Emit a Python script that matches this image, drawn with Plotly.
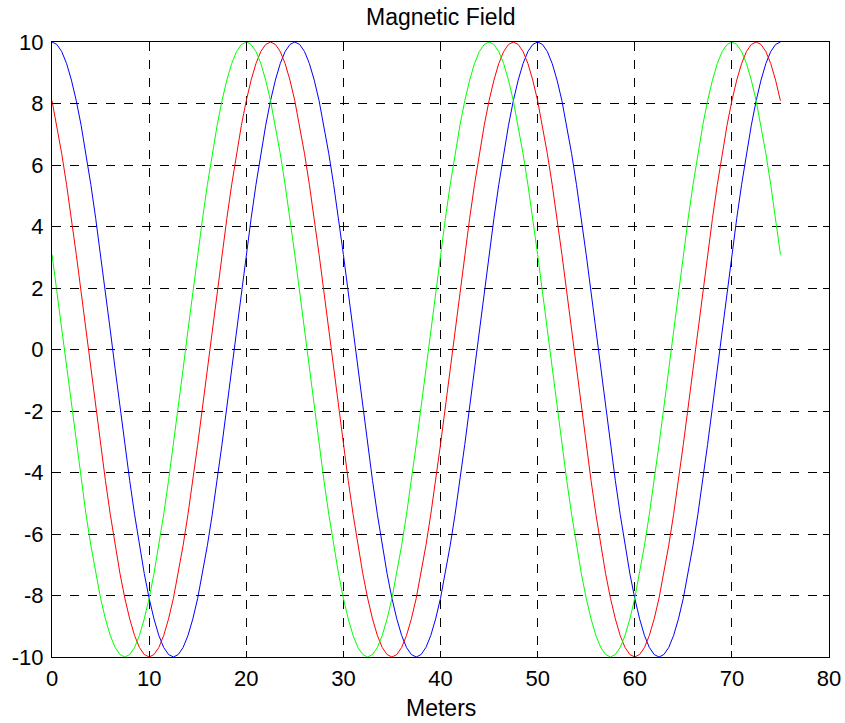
import plotly.graph_objects as go

meters = [0, 0.5, 1, 1.5, 2, 2.5, 3, 3.5, 4, 4.5, 5, 5.5, 6, 6.5, 7, 7.5, 8, 8.5, 9, 9.5,
          10, 10.5, 11, 11.5, 12, 12.5, 13, 13.5, 14, 14.5, 15, 15.5, 16, 16.5, 17, 17.5, 18, 18.5, 19, 19.5,
          20, 20.5, 21, 21.5, 22, 22.5, 23, 23.5, 24, 24.5, 25, 25.5, 26, 26.5, 27, 27.5, 28, 28.5, 29, 29.5,
          30, 30.5, 31, 31.5, 32, 32.5, 33, 33.5, 34, 34.5, 35, 35.5, 36, 36.5, 37, 37.5, 38, 38.5, 39, 39.5,
          40, 40.5, 41, 41.5, 42, 42.5, 43, 43.5, 44, 44.5, 45, 45.5, 46, 46.5, 47, 47.5, 48, 48.5, 49, 49.5,
          50, 50.5, 51, 51.5, 52, 52.5, 53, 53.5, 54, 54.5, 55, 55.5, 56, 56.5, 57, 57.5, 58, 58.5, 59, 59.5,
          60, 60.5, 61, 61.5, 62, 62.5, 63, 63.5, 64, 64.5, 65, 65.5, 66, 66.5, 67, 67.5, 68, 68.5, 69, 69.5,
          70, 70.5, 71, 71.5, 72, 72.5, 73, 73.5, 74, 74.5, 75]

blue_field = [
    10, 9.92, 9.69, 9.30, 8.76, 8.09, 7.29, 6.37, 5.36, 4.26, 3.09, 1.87, 0.63, -0.63, -1.87, -3.09, -4.26, -5.36, -6.37, -7.29, -8.09, -8.76, -9.30, -9.69, -9.92,
    -10, -9.92, -9.69, -9.30, -8.76, -8.09, -7.29, -6.37, -5.36, -4.26, -3.09, -1.87, -0.63, 0.63, 1.87, 3.09, 4.26, 5.36, 6.37, 7.29, 8.09, 8.76, 9.30, 9.69, 9.92,
    10, 9.92, 9.69, 9.30, 8.76, 8.09, 7.29, 6.37, 5.36, 4.26, 3.09, 1.87, 0.63, -0.63, -1.87, -3.09, -4.26, -5.36, -6.37, -7.29, -8.09, -8.76, -9.30, -9.69, -9.92,
    -10, -9.92, -9.69, -9.30, -8.76, -8.09, -7.29, -6.37, -5.36, -4.26, -3.09, -1.87, -0.63, 0.63, 1.87, 3.09, 4.26, 5.36, 6.37, 7.29, 8.09, 8.76, 9.30, 9.69, 9.92,
    10, 9.92, 9.69, 9.30, 8.76, 8.09, 7.29, 6.37, 5.36, 4.26, 3.09, 1.87, 0.63, -0.63, -1.87, -3.09, -4.26, -5.36, -6.37, -7.29, -8.09, -8.76, -9.30, -9.69, -9.92,
    -10, -9.92, -9.69, -9.30, -8.76, -8.09, -7.29, -6.37, -5.36, -4.26, -3.09, -1.87, -0.63, 0.63, 1.87, 3.09, 4.26, 5.36, 6.37, 7.29, 8.09, 8.76, 9.30, 9.69, 9.92,
    10]

red_field = [
    8.09, 7.29, 6.37, 5.36, 4.26, 3.09, 1.87, 0.63, -0.63, -1.87, -3.09, -4.26, -5.36, -6.37, -7.29, -8.09, -8.76, -9.30, -9.69, -9.92, -10, -9.92, -9.69, -9.30, -8.76,
    -8.09, -7.29, -6.37, -5.36, -4.26, -3.09, -1.87, -0.63, 0.63, 1.87, 3.09, 4.26, 5.36, 6.37, 7.29, 8.09, 8.76, 9.30, 9.69, 9.92, 10, 9.92, 9.69, 9.30, 8.76,
    8.09, 7.29, 6.37, 5.36, 4.26, 3.09, 1.87, 0.63, -0.63, -1.87, -3.09, -4.26, -5.36, -6.37, -7.29, -8.09, -8.76, -9.30, -9.69, -9.92, -10, -9.92, -9.69, -9.30, -8.76,
    -8.09, -7.29, -6.37, -5.36, -4.26, -3.09, -1.87, -0.63, 0.63, 1.87, 3.09, 4.26, 5.36, 6.37, 7.29, 8.09, 8.76, 9.30, 9.69, 9.92, 10, 9.92, 9.69, 9.30, 8.76,
    8.09, 7.29, 6.37, 5.36, 4.26, 3.09, 1.87, 0.63, -0.63, -1.87, -3.09, -4.26, -5.36, -6.37, -7.29, -8.09, -8.76, -9.30, -9.69, -9.92, -10, -9.92, -9.69, -9.30, -8.76,
    -8.09, -7.29, -6.37, -5.36, -4.26, -3.09, -1.87, -0.63, 0.63, 1.87, 3.09, 4.26, 5.36, 6.37, 7.29, 8.09, 8.76, 9.30, 9.69, 9.92, 10, 9.92, 9.69, 9.30, 8.76,
    8.09]

green_field = [
    3.09, 1.87, 0.63, -0.63, -1.87, -3.09, -4.26, -5.36, -6.37, -7.29, -8.09, -8.76, -9.30, -9.69, -9.92, -10, -9.92, -9.69, -9.30, -8.76, -8.09, -7.29, -6.37, -5.36, -4.26,
    -3.09, -1.87, -0.63, 0.63, 1.87, 3.09, 4.26, 5.36, 6.37, 7.29, 8.09, 8.76, 9.30, 9.69, 9.92, 10, 9.92, 9.69, 9.30, 8.76, 8.09, 7.29, 6.37, 5.36, 4.26,
    3.09, 1.87, 0.63, -0.63, -1.87, -3.09, -4.26, -5.36, -6.37, -7.29, -8.09, -8.76, -9.30, -9.69, -9.92, -10, -9.92, -9.69, -9.30, -8.76, -8.09, -7.29, -6.37, -5.36, -4.26,
    -3.09, -1.87, -0.63, 0.63, 1.87, 3.09, 4.26, 5.36, 6.37, 7.29, 8.09, 8.76, 9.30, 9.69, 9.92, 10, 9.92, 9.69, 9.30, 8.76, 8.09, 7.29, 6.37, 5.36, 4.26,
    3.09, 1.87, 0.63, -0.63, -1.87, -3.09, -4.26, -5.36, -6.37, -7.29, -8.09, -8.76, -9.30, -9.69, -9.92, -10, -9.92, -9.69, -9.30, -8.76, -8.09, -7.29, -6.37, -5.36, -4.26,
    -3.09, -1.87, -0.63, 0.63, 1.87, 3.09, 4.26, 5.36, 6.37, 7.29, 8.09, 8.76, 9.30, 9.69, 9.92, 10, 9.92, 9.69, 9.30, 8.76, 8.09, 7.29, 6.37, 5.36, 4.26,
    3.09]

x_ticks = [0, 10, 20, 30, 40, 50, 60, 70, 80]
x_tick_labels = ["0", "10", "20", "30", "40", "50", "60", "70", "80"]
y_ticks = [-10, -8, -6, -4, -2, 0, 2, 4, 6, 8, 10]
y_tick_labels = ["-10", "-8", "-6", "-4", "-2", "0", "2", "4", "6", "8", "10"]

FONT = "Liberation Sans, Arial, sans-serif"
FS = 22
FS_TITLE = 23

fig = go.Figure()
for vals, col in [(blue_field, "#0000ff"), (red_field, "#ff0000"), (green_field, "#00ff00")]:
    fig.add_trace(go.Scatter(x=meters, y=vals, mode="lines",
                             line=dict(color=col, width=1), showlegend=False))

axis_common = dict(showline=True, linecolor="black", linewidth=1, mirror="allticks",
                   ticks="inside", ticklen=6, tickcolor="black", tickwidth=1,
                   showgrid=True, gridcolor="black", gridwidth=1, griddash="dash",
                   zeroline=False, automargin=False,
                   tickfont=dict(family=FONT, size=FS, color="black"))

fig.update_xaxes(range=[0, 80], tickvals=x_ticks, ticktext=x_tick_labels,
                 ticklabelstandoff=2, **axis_common)
fig.update_yaxes(range=[-10, 10], tickvals=y_ticks, ticktext=y_tick_labels,
                 ticklabelstandoff=3, **axis_common)

fig.update_layout(
    width=845, height=723,
    margin=dict(l=52, r=16, t=42, b=66),
    plot_bgcolor="white", paper_bgcolor="white",
    font=dict(family=FONT, size=FS, color="black"),
    annotations=[
        dict(text="Magnetic Field", xref="paper", yref="paper", x=0.5, y=1.0, yshift=25,
             xanchor="center", yanchor="middle",
             showarrow=False, font=dict(family=FONT, size=FS_TITLE, color="black")),
        dict(text="Meters", xref="paper", yref="paper", x=0.5, y=0, yshift=-51,
             xanchor="center", yanchor="middle",
             showarrow=False, font=dict(family=FONT, size=FS_TITLE, color="black")),
    ],
)

# remove the default 8px page margin so the 845x723 figure fills the window exactly
fig.write_html("out.html",
               config={"displayModeBar": False},
               post_script="document.body.style.margin='0';document.body.style.overflow='hidden';")
